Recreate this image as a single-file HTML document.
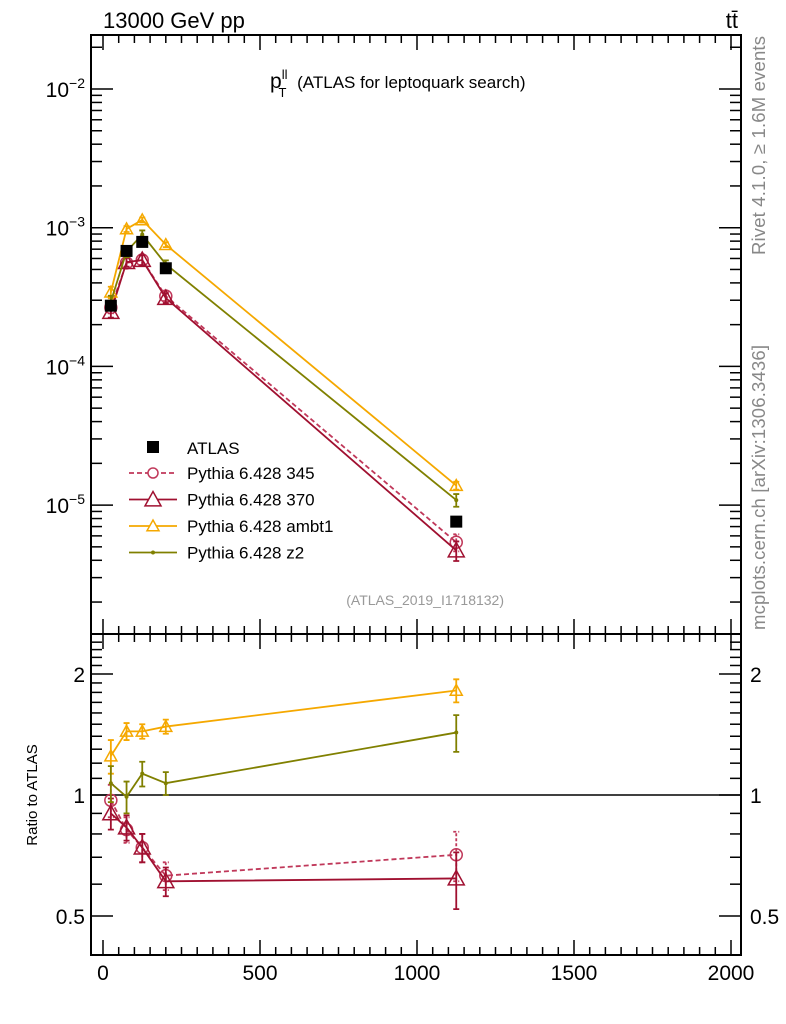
<!DOCTYPE html>
<html><head><meta charset="utf-8"><style>
body{margin:0;background:#fff}
svg{display:block;font-family:"Liberation Sans","DejaVu Sans",sans-serif}
</style></head><body>
<svg id="c" width="786" height="1024" viewBox="0 0 786 1024"></svg>
<script>
const xVals=[25,75,125,200,1125];
const dataVals=[2.74e-4,6.8e-4,7.9e-4,5.1e-4,7.6e-6];
const dataErr=[0.03,0.03,0.03,0.03,0.05];
const ratio345=[0.97,0.82,0.74,0.63,0.71];
const err345=[0.09,0.06,0.06,0.05,0.1];
const ratio370=[0.90,0.83,0.74,0.61,0.62];
const err370=[0.08,0.06,0.06,0.05,0.1];
const ratioAmbt1=[1.25,1.44,1.44,1.48,1.82];
const errAmbt1=[0.12,0.07,0.06,0.06,0.12];
const ratioZ2=[1.07,0.99,1.13,1.07,1.43];
const errZ2=[0.11,0.09,0.08,0.07,0.15];
const xTicks=[0,500,1000,1500,2000];
const mainTickExps=[-2,-3,-4,-5];
const ratioTicks=[2,1,0.5];
const ratioTickLabels=["2","1","0.5"];

const NS="http://www.w3.org/2000/svg";
const svg=document.getElementById('c');
const L=91,R=741,T=35,M=634,B=955;
const X=v=>103+v*0.314;
const Ym=v=>89-(Math.log10(v)+2)*138.7;
const Yr=v=>795-Math.log2(v)*121;
function el(tag,attrs,parent){const e=document.createElementNS(NS,tag);for(const k in attrs)e.setAttribute(k,attrs[k]);(parent||svg).appendChild(e);return e;}
function txt(s,attrs,parent){const t=el('text',attrs,parent);t.textContent=s;return t;}

let f1=el('rect',{x:L,y:T,width:R-L,height:M-T,fill:'none',stroke:'#000','stroke-width':2});


let f2=el('rect',{x:L,y:M,width:R-L,height:B-M,fill:'none',stroke:'#000','stroke-width':2});



const xt=el('g',{stroke:'#000','stroke-width':1.5});


for(let v=0;v<=2000;v+=50){const x=X(v);const maj=v%500===0;const len=maj?15:8;
 el('line',{x1:x,y1:T,x2:x,y2:T+len},xt);
 el('line',{x1:x,y1:M,x2:x,y2:M+len},xt);
 el('line',{x1:x,y1:M,x2:x,y2:M-len},xt);
 el('line',{x1:x,y1:B,x2:x,y2:B-len},xt);}
xTicks.forEach(v=>{const t=txt(String(v),{x:X(v),y:980,'text-anchor':'middle','font-size':21});
 
 });

const yt=el('g',{stroke:'#000','stroke-width':1.5});


for(let e=-6;e<=-2;e++){for(let m=1;m<10;m++){const v=m*Math.pow(10,e);const y=Ym(v);if(y<T||y>M)continue;const len=m===1?22:11;
 el('line',{x1:L,y1:y,x2:L+len,y2:y},yt);el('line',{x1:R,y1:y,x2:R-len,y2:y},yt);}}
mainTickExps.forEach(e=>{const y=Ym(Math.pow(10,e));
 const t=el('text',{x:85,y:y+8,'text-anchor':'end','font-size':21});
 
 
 t.textContent='10';const s=el('tspan',{dy:-9,'font-size':14},t);s.textContent='−'+(-e);});

const rt=el('g',{stroke:'#000','stroke-width':1.5});
for(let v=0.4;v<=2.5;v+=0.1){const y=Yr(v);if(y<M||y>B)continue;const maj=[0.5,1,2].some(a=>Math.abs(a-v)<1e-6);const len=maj?22:11;
 el('line',{x1:L,y1:y,x2:L+len,y2:y},rt);el('line',{x1:R,y1:y,x2:R-len,y2:y},rt);}
ratioTicks.forEach((v,i)=>{const y=Yr(v)+8;
 const a=txt(ratioTickLabels[i],{x:85,y:y,'text-anchor':'end','font-size':21});
 
 
 const b=txt(ratioTickLabels[i],{x:750,y:y,'font-size':21});
 
 });
el('line',{x1:L,y1:Yr(1),x2:R,y2:Yr(1),stroke:'#000','stroke-width':1.5});
const rl=txt('Ratio to ATLAS',{x:0,y:0,'font-size':15,transform:'translate(37,795) rotate(-90)','text-anchor':'middle'});



const t1=txt('13000 GeV pp',{x:103,y:28,'font-size':22});


const t2=txt('tt̄',{x:738,y:28,'font-size':22,'text-anchor':'end'});


const tt=el('text',{x:270,y:88,'font-size':17});


tt.innerHTML='<tspan font-size="21">p</tspan><tspan dy="-9" font-size="13">ll</tspan><tspan dx="-9" dy="18" font-size="13">T</tspan><tspan dx="6" dy="-9"> (ATLAS for leptoquark search)</tspan>';
const rv=txt('Rivet 4.1.0, ≥ 1.6M events',{x:0,y:0,'font-size':18.5,fill:'#888',transform:'translate(765,255) rotate(-90)','textLength':219});


const mc=txt('mcplots.cern.ch [arXiv:1306.3436]',{x:0,y:0,'font-size':18.5,fill:'#888',transform:'translate(765,630) rotate(-90)','textLength':285});


const an=txt('(ATLAS_2019_I1718132)',{x:504,y:605,'font-size':14,fill:'#999','text-anchor':'end'});



function tri(g,x,y,s,col,sw){el('path',{d:`M${x-s} ${y+s*0.8}L${x+s} ${y+s*0.8}L${x} ${y-s*1.0}Z`,fill:'none',stroke:col,'stroke-width':sw},g);}
const series=[
 {name:'345',r:ratio345,e:err345,col:'#c0385a',dash:'5,3',mk:'circle',sz:6},
 {name:'370',r:ratio370,e:err370,col:'#a01030',dash:null,mk:'tri',sz:8},
 {name:'ambt1',r:ratioAmbt1,e:errAmbt1,col:'#f5a800',dash:null,mk:'tri',sz:6},
 {name:'z2',r:ratioZ2,e:errZ2,col:'#808000',dash:null,mk:'dot',sz:2}];
function drawSeries(s,Y,vals,errs,g){
 const pts=xVals.map((x,i)=>X(x)+','+Y(vals[i])).join(' ');
 const pl=el('polyline',{points:pts,fill:'none',stroke:s.col,'stroke-width':1.8},g);
 if(s.dash)pl.setAttribute('stroke-dasharray',s.dash);
 xVals.forEach((x,i)=>{const cx=X(x);const lo=Y(errs[i][0]),hi=Y(errs[i][1]);
  const eb=el('path',{d:`M${cx} ${lo}V${hi}M${cx-3} ${lo}H${cx+3}M${cx-3} ${hi}H${cx+3}`,stroke:s.col,'stroke-width':1.8,fill:'none'},g);
  if(s.dash)eb.setAttribute('stroke-dasharray','3,2');
  const cy=Y(vals[i]);
  if(s.mk==='circle')el('circle',{cx:cx,cy:cy,r:s.sz,fill:'none',stroke:s.col,'stroke-width':1.5},g);
  else if(s.mk==='tri')tri(g,cx,cy,s.sz,s.col,1.5);
  else el('circle',{cx:cx,cy:cy,r:2,fill:s.col},g);});}
series.forEach(s=>{
 const gm=el('g',{});
 
 
 const mv=xVals.map((x,i)=>dataVals[i]*s.r[i]);
 drawSeries(s,Ym,mv,mv.map((v,i)=>[v*(1-s.e[i]/s.r[i]),v*(1+s.e[i]/s.r[i])]),gm);
 const gr=el('g',{});
 
 
 drawSeries(s,Yr,s.r,s.r.map((v,i)=>[v-s.e[i],v+s.e[i]]),gr);});
const gd=el('g',{});


xVals.forEach((x,i)=>{const cx=X(x),cy=Ym(dataVals[i]);
 el('rect',{x:cx-6,y:cy-6,width:12,height:12,fill:'#000'},gd);});

const lg=el('g',{});


el('rect',{x:147,y:441,width:12,height:12,fill:'#000'},lg);
txt('ATLAS',{x:187,y:454,'font-size':17},lg);
const names=['Pythia 6.428 345','Pythia 6.428 370','Pythia 6.428 ambt1','Pythia 6.428 z2'];
series.forEach((s,i)=>{const y=473+i*26.5;
 const ln=el('line',{x1:129,y1:y,x2:177,y2:y,stroke:s.col,'stroke-width':1.8},lg);
 if(s.dash)ln.setAttribute('stroke-dasharray',s.dash);
 if(s.mk==='circle')el('circle',{cx:153,cy:y,r:5,fill:'#fff',stroke:s.col,'stroke-width':1.5},lg);
 else if(s.mk==='tri'){el('path',{d:`M${153-s.sz} ${y+s.sz*0.8}L${153+s.sz} ${y+s.sz*0.8}L153 ${y-s.sz}Z`,fill:'#fff',stroke:s.col,'stroke-width':1.5},lg);}
 else el('circle',{cx:153,cy:y,r:2,fill:s.col},lg);
 const t=txt(names[i],{x:187,y:y+6,'font-size':17},lg);
 
 });
</script>
</body></html>
